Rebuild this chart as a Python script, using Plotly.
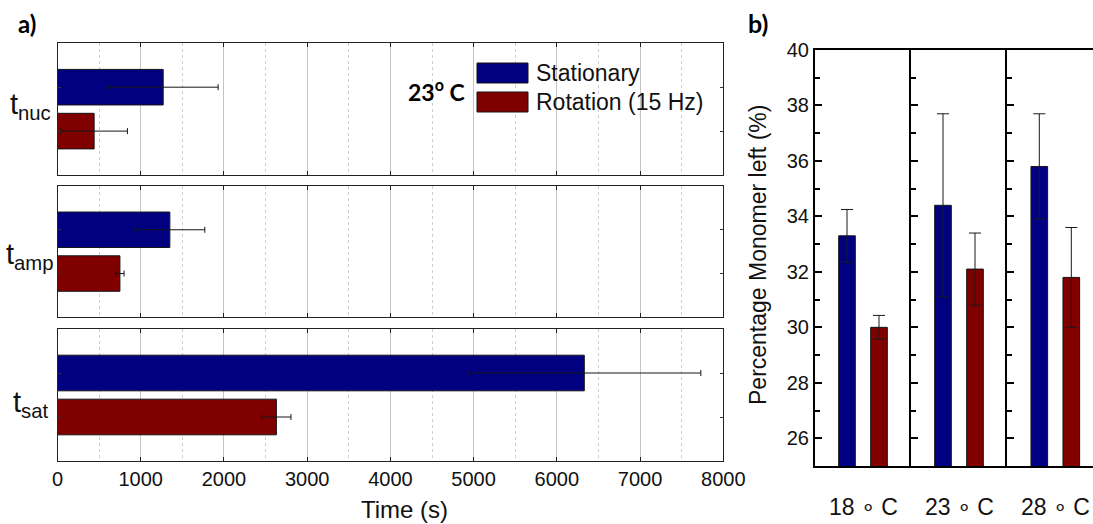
import plotly.graph_objects as go

# ---------------- data ----------------
phases = ["nuc", "amp", "sat"]
conditions = ["Stationary", "Rotation (15 Hz)"]
stationary_time = [1270, 1350, 6330]
stationary_time_err = [660, 420, 1400]
rotation_time = [440, 750, 2630]
rotation_time_err = [400, 50, 175]

temperatures = ["18 \u2218 C", "23 \u2218 C", "28 \u2218 C"]
stationary_pct = [33.3, 34.4, 35.8]
stationary_pct_err = [0.95, 3.3, 1.9]
rotation_pct = [30.0, 32.1, 31.8]
rotation_pct_err = [0.43, 1.3, 1.8]

time_ticks = [0, 1000, 2000, 3000, 4000, 5000, 6000, 7000, 8000]
pct_ticks = [26, 28, 30, 32, 34, 36, 38, 40]

# ---------------- layout helpers ----------------
W, H = 1093, 524


def fx(p):
    return p / W


def fy(p):
    return 1 - p / H


BLUE = "#000080"
RED = "#800000"
EDGE = "#151515"
FONT = "Liberation Sans, Arial, sans-serif"
BOLD = "Lato, Open Sans, sans-serif"

fig = go.Figure()
layout = {}

# ---------------- panel a ----------------
a_rows = [(43.3, 175.0), (186.0, 317.3), (329.0, 461.0)]
for i, ph in enumerate(phases):
    n = "" if i == 0 else str(i + 1)
    xa, ya = "x" + n, "y" + n
    for cond, vals, errs, col in [
        (conditions[0], stationary_time, stationary_time_err, BLUE),
        (conditions[1], rotation_time, rotation_time_err, RED),
    ]:
        fig.add_trace(go.Bar(
            x=[vals[i]], y=[cond], orientation="h", width=0.81,
            marker=dict(color=col, line=dict(color=EDGE, width=1)),
            error_x=dict(type="data", array=[errs[i]], color="#161616",
                         thickness=1, width=3),
            xaxis=xa, yaxis=ya, showlegend=False, name=cond,
        ))
    top, bot = a_rows[i]
    layout["xaxis" + n] = dict(
        domain=[fx(57.5), fx(723.3)], anchor=ya, range=[0, 8000],
        tickmode="array", tickvals=time_ticks, ticks="inside", ticklen=4,
        tickcolor="#222222", showline=True, linecolor="#222222", linewidth=1,
        mirror="allticks", showgrid=True, gridcolor="#c4c4c4", gridwidth=1,
        minor=dict(dtick=500, tick0=0, showgrid=True, gridcolor="#cfcfcf",
                   griddash="dot", gridwidth=1),
        showticklabels=(i == 2), tickfont=dict(family=FONT, size=20, color="#111"),
        zeroline=False, fixedrange=True,
    )
    layout["yaxis" + n] = dict(
        domain=[fy(bot), fy(top)], anchor=xa, type="category",
        categoryorder="array", categoryarray=[conditions[1], conditions[0]],
        range=[-1, 2], showticklabels=False, ticks="inside", ticklen=3,
        tickcolor="#333333", tickmode="linear", tick0=-1, dtick=0.25,
        showline=True, linecolor="#222222", linewidth=1, mirror="allticks",
        showgrid=False, zeroline=False, fixedrange=True,
    )

# ---------------- panel b ----------------
b_cols = [(815.0, 911.0), (911.0, 1007.3), (1007.3, 1093.0)]
group_px = 96.0
for j, temp in enumerate(temperatures):
    k = j + 4
    n = str(k)
    xa, ya = "x" + n, "y" + n
    for cond, vals, errs, col in [
        (conditions[0], stationary_pct, stationary_pct_err, BLUE),
        (conditions[1], rotation_pct, rotation_pct_err, RED),
    ]:
        fig.add_trace(go.Bar(
            x=[cond], y=[vals[j]], width=0.52,
            marker=dict(color=col, line=dict(color=EDGE, width=1)),
            error_y=dict(type="data", array=[errs[j]], color="#1a1a1a",
                         thickness=1, width=6),
            xaxis=xa, yaxis=ya, showlegend=False, name=cond,
        ))
    l, r = b_cols[j]
    span = 3.0 * (r - l) / group_px
    layout["xaxis" + n] = dict(
        domain=[fx(l), fx(r)], anchor=ya, type="category",
        categoryorder="array", categoryarray=conditions,
        range=[-1, -1 + span], showticklabels=False, ticks="",
        showline=True, linecolor="black", linewidth=2, mirror=True,
        showgrid=False, zeroline=False, fixedrange=True,
    )
    layout["yaxis" + n] = dict(
        domain=[fy(466), fy(50)], anchor=xa, range=[25, 40],
        tickmode="array", tickvals=pct_ticks, ticks="inside", ticklen=7,
        tickwidth=2, tickcolor="black",
        minor=dict(dtick=1, tick0=25, ticks="inside", ticklen=5, tickwidth=2,
                   tickcolor="black"),
        showline=True, linecolor="black", linewidth=2, mirror=False,
        showticklabels=(j == 0), tickfont=dict(family=FONT, size=20, color="#111"),
        showgrid=False, zeroline=False, fixedrange=True,
    )

# ---------------- annotations ----------------
ann = []
# phase labels
label_y = [106, 256, 404]
for i, ph in enumerate(phases):
    ann.append(dict(text="t<sub>%s</sub>" % ph, x=fx(30), y=fy(label_y[i]),
                    xref="paper", yref="paper", xanchor="center", yanchor="middle",
                    showarrow=False, font=dict(family=FONT, size=29, color="#111")))
# temperature labels under panel b groups
for j, temp in enumerate(temperatures):
    n = str(j + 4)
    ann.append(dict(text=temp, x=0.5, y=fy(507), xref="x" + n, yref="paper",
                    xanchor="center", yanchor="middle", showarrow=False,
                    font=dict(family=FONT, size=23, color="#111")))
# axis titles
ann.append(dict(text="Time (s)", x=fx(404), y=fy(509), xref="paper", yref="paper",
                xanchor="center", yanchor="middle", showarrow=False,
                font=dict(family=FONT, size=24, color="#111")))
ann.append(dict(text="Percentage Monomer left (%)", x=fx(758), y=fy(255),
                xref="paper", yref="paper", xanchor="center", yanchor="middle",
                textangle=-90, showarrow=False,
                font=dict(family=FONT, size=23, color="#111")))
# panel letters and temperature note
ann.append(dict(text="<b>a)</b>", x=fx(27.5), y=fy(24), xref="paper", yref="paper",
                xanchor="center", yanchor="middle", showarrow=False,
                font=dict(family=BOLD, size=24, color="black")))
ann.append(dict(text="<b>b)</b>", x=fx(758), y=fy(23), xref="paper", yref="paper",
                xanchor="center", yanchor="middle", showarrow=False,
                font=dict(family=BOLD, size=25, color="black")))
ann.append(dict(text="<b>23<sup>o</sup> C</b>", x=fx(436), y=fy(91), xref="paper",
                yref="paper", xanchor="center", yanchor="middle", showarrow=False,
                font=dict(family=BOLD, size=23, color="black")))
# legend (manual, wide swatches)
shapes = []
for cond, col, (t, b) in [(conditions[0], BLUE, (63, 83)), (conditions[1], RED, (92, 112))]:
    shapes.append(dict(type="rect", xref="paper", yref="paper", x0=fx(477), x1=fx(528),
                       y0=fy(b), y1=fy(t), fillcolor=col, line=dict(color=EDGE, width=1)))
    ann.append(dict(text=cond, x=fx(534), y=fy((t + b) / 2), xref="paper", yref="paper",
                    xanchor="left", yanchor="middle", showarrow=False,
                    font=dict(family=FONT, size=23, color="#111")))

fig.update_layout(
    width=W, height=H, margin=dict(l=0, r=0, t=0, b=0, autoexpand=False),
    paper_bgcolor="white", plot_bgcolor="white", barmode="overlay",
    font=dict(family=FONT, color="#111"), annotations=ann, shapes=shapes,
    showlegend=False, **layout,
)

fig.write_html("out.html")
